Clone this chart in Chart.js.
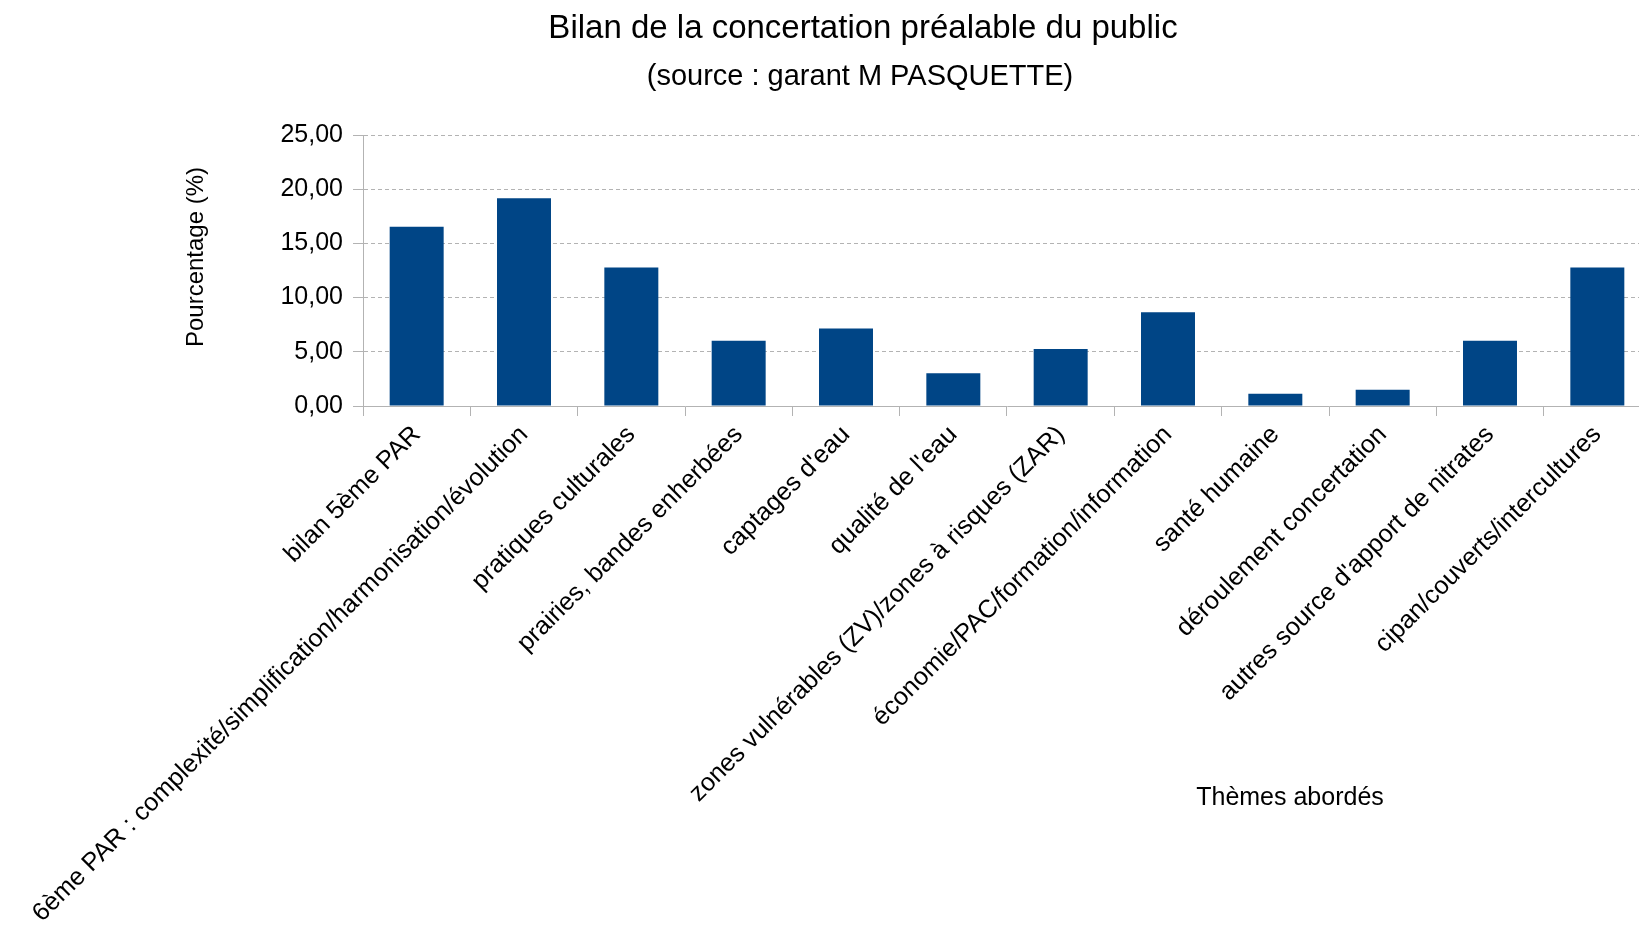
<!DOCTYPE html>
<html>
<head>
<meta charset="utf-8">
<script src="https://cdn.jsdelivr.net/npm/chart.js@4/dist/chart.umd.min.js"></script>
<style>
  html, body { margin: 0; padding: 0; background: #ffffff; overflow: hidden; }
  #wrap { width: 1652px; height: 925px; }
</style>
</head>
<body>
<div id="wrap"><canvas id="c" width="1652" height="925"></canvas></div>
<script>
const categories = [
  "bilan 5ème PAR",
  "6ème PAR : complexité/simplification/harmonisation/évolution",
  "pratiques culturales",
  "prairies, bandes enherbées",
  "captages d'eau",
  "qualité de l'eau",
  "zones vulnérables (ZV)/zones à risques (ZAR)",
  "économie/PAC/formation/information",
  "santé humaine",
  "déroulement concertation",
  "autres source d'apport de nitrates",
  "cipan/couverts/intercultures"
];
const percentages = [16.54, 19.17, 12.78, 6.02, 7.14, 3.01, 5.26, 8.65, 1.13, 1.50, 6.02, 12.78];
const yTickValues = [0, 5, 10, 15, 20, 25];
const yTickLabels = ["0,00", "5,00", "10,00", "15,00", "20,00", "25,00"];

const titleText = "Bilan de la concertation préalable du public";
const subtitleText = "(source : garant M PASQUETTE)";
const yTitleText = "Pourcentage (%)";
const xTitleText = "Thèmes abordés";

const FONT = "'Liberation Sans', Arial, sans-serif";

const textPlugin = {
  id: 'textPlugin',
  afterDraw(chart) {
    const ctx = chart.ctx;
    ctx.save();
    ctx.fillStyle = '#000000';
    ctx.textAlign = 'center';
    ctx.textBaseline = 'middle';
    ctx.font = "33px " + FONT;
    ctx.fillText(titleText, 863, 29);
    ctx.font = "29px " + FONT;
    ctx.fillText(subtitleText, 860, 77);
    ctx.font = "25px " + FONT;
    ctx.fillText(xTitleText, 1290, 798);
    ctx.translate(196, 257);
    ctx.rotate(-Math.PI / 2);
    ctx.font = "24px " + FONT;
    ctx.fillText(yTitleText, 0, 0);
    ctx.restore();
  }
};

new Chart(document.getElementById('c'), {
  type: 'bar',
  data: {
    labels: categories,
    datasets: [{
      data: percentages,
      backgroundColor: '#004586',
      borderWidth: 0,
      barPercentage: 0.503,
      categoryPercentage: 1.0
    }]
  },
  options: {
    responsive: false,
    animation: false,
    devicePixelRatio: 1,
    layout: { padding: { top: 135, left: 0, right: 1, bottom: 0 } },
    plugins: {
      legend: { display: false },
      title: { display: false },
      tooltip: { enabled: false }
    },
    scales: {
      x: {
        offset: true,
        afterFit(scale) { scale.height = 519; },
        grid: {
          display: true,
          drawOnChartArea: false,
          drawTicks: true,
          tickLength: 10,
          color: '#b3b3b3',
          tickColor: '#b3b3b3',
          offset: true
        },
        border: { display: true, color: '#b3b3b3', width: 1 },
        ticks: {
          autoSkip: false,
          maxRotation: 45,
          minRotation: 45,
          padding: 4,
          color: '#000000',
          font: { family: FONT, size: 25.3 }
        }
      },
      y: {
        min: 0,
        max: 25,
        afterFit(scale) { scale.width = 363; },
        afterBuildTicks(scale) { scale.ticks = yTickValues.map(v => ({ value: v })); },
        grid: {
          color: '#b3b3b3',
          tickColor: '#b3b3b3',
          tickLength: 10,
          tickBorderDash: [],
          lineWidth: 1
        },
        border: { display: true, color: '#b3b3b3', width: 1, dash: [4, 3] },
        ticks: {
          padding: 10,
          color: '#000000',
          font: { family: FONT, size: 25 },
          callback(value) {
            const i = yTickValues.indexOf(value);
            return i >= 0 ? yTickLabels[i] : '';
          }
        }
      }
    }
  },
  plugins: [textPlugin]
});
</script>
</body>
</html>
